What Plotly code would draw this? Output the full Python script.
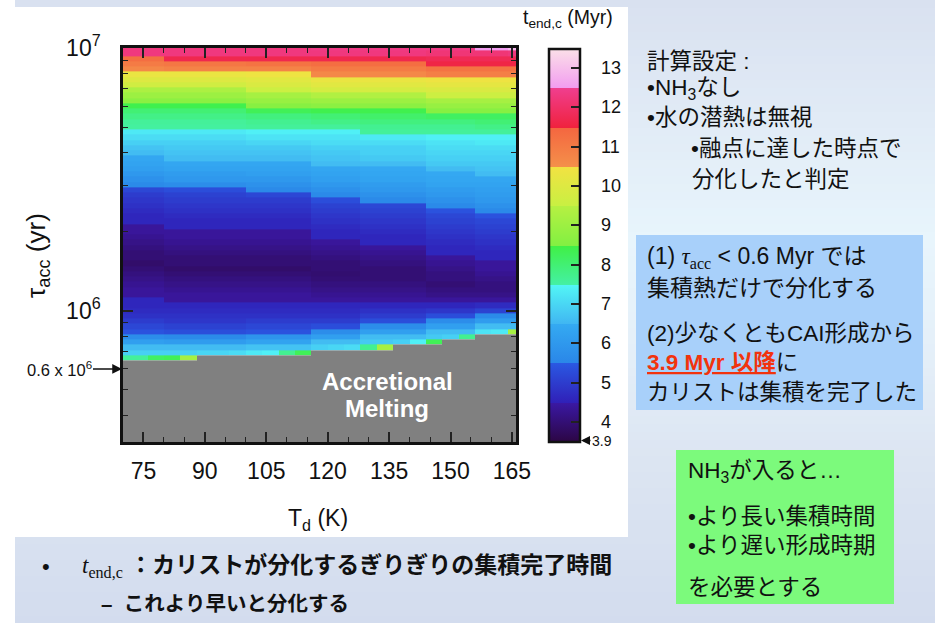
import numpy as np
import plotly.graph_objects as go

# ---------------------------------------------------------------- data ----
# Dust temperature columns (K)
td_k = [70, 74, 78, 82, 86, 90, 94, 98, 102, 106, 110, 114, 118, 122, 126,
        130, 134, 138, 142, 146, 150, 154, 158, 162, 166]

# t_end,c profile followed by each Td column
td_profile = ["A", "A", "A", "B", "B", "B", "B", "B", "C", "C", "C", "C",
              "D", "D", "D", "E", "E", "E", "E", "F", "F", "F", "G", "G", "H"]

# accretion timescale below which the body melts during accretion (Myr)
melt_limit_myr = [0.646, 0.646, 0.646, 0.646, 0.646,
                  0.676, 0.676, 0.676, 0.676, 0.676, 0.676, 0.676,
                  0.708, 0.708, 0.708, 0.708, 0.708,
                  0.741, 0.741, 0.741,
                  0.776, 0.776,
                  0.813, 0.813, 0.813]

# t_end,c (Myr) in the last row before the accretional-melting region
t_end_edge = [7.6, 7.6, 8.2, 8.3, 9.2, 7.0, 7.0, 7.1, 7.3, 7.4, 7.7, 8.3,
              6.9, 7.0, 7.1, 7.7, 9.2, 6.9, 7.4, 8.3, 6.9, 7.7, 7.2, 7.3, 9.2]

# t_end,c (Myr) for log10(tau_acc / yr) = 7.00, 6.98, ... 5.82
t_end_A = [12.3, 12.3, 11.3, 11.0, 10.7, 10.3, 10.0, 9.7, 9.3, 9.0,
           8.7, 8.4, 8.0, 7.8, 7.6, 7.55, 7.3, 7.1, 6.9, 6.7,
           6.6, 6.4, 6.3, 6.2, 6.0, 5.8, 5.6, 5.2, 5.0, 4.9,
           4.8, 4.7, 4.6, 4.6, 4.4, 4.4, 4.3, 4.2, 4.1, 4.0,
           4.0, 3.9, 4.0, 4.1, 4.2, 4.3, 4.4, 4.4, 4.6, 4.6,
           4.7, 4.8, 5.0, 5.2, 5.4, 5.7, 6.2, 6.6, 6.9, None]
t_end_B = [12.3, 12.3, 11.7, 11.1, 10.8, 10.3, 10.0, 9.7, 9.3, 9.0,
           8.7, 8.4, 8.0, 7.8, 7.6, 7.55, 7.3, 7.1, 6.9, 6.8,
           6.7, 6.6, 6.4, 6.3, 6.1, 6.0, 5.7, 5.3, 5.1, 5.0,
           4.9, 4.8, 4.7, 4.6, 4.6, 4.4, 4.4, 4.3, 4.2, 4.1,
           4.0, 4.0, 3.9, 4.0, 4.1, 4.2, 4.3, 4.4, 4.4, 4.6,
           4.7, 4.8, 4.9, 5.1, 5.3, 5.6, 6.1, 6.6, 6.9, None]
t_end_C = [12.3, 12.3, 11.7, 11.2, 10.8, 10.4, 10.1, 9.9, 9.6, 9.2,
           8.9, 8.6, 8.3, 7.9, 7.7, 7.6, 7.4, 7.2, 7.0, 6.8,
           6.7, 6.6, 6.4, 6.3, 6.2, 6.0, 5.8, 5.6, 5.2, 5.0,
           4.9, 4.8, 4.7, 4.6, 4.6, 4.4, 4.4, 4.3, 4.2, 4.1,
           4.0, 4.0, 3.9, 4.0, 4.1, 4.2, 4.3, 4.4, 4.4, 4.6,
           4.7, 4.8, 5.0, 5.2, 5.4, 5.9, 6.3, 6.7, None, None]
t_end_D = [12.4, 12.3, 11.7, 11.3, 11.0, 10.7, 10.3, 10.1, 9.8, 9.4,
           9.0, 8.7, 8.4, 8.0, 7.8, 7.6, 7.4, 7.2, 7.1, 6.9,
           6.8, 6.7, 6.6, 6.4, 6.3, 6.2, 6.0, 5.8, 5.6, 5.3,
           5.1, 5.0, 4.9, 4.8, 4.7, 4.6, 4.6, 4.4, 4.3, 4.2,
           4.1, 4.0, 4.0, 3.95, 4.0, 4.1, 4.2, 4.3, 4.4, 4.6,
           4.7, 4.8, 5.0, 5.3, 5.7, 6.2, 6.6, None, None, None]
t_end_E = [12.4, 12.3, 11.7, 11.3, 11.0, 10.7, 10.3, 10.1, 9.8, 9.4,
           9.0, 8.7, 8.4, 8.1, 7.9, 7.7, 7.6, 7.3, 7.1, 6.9,
           6.9, 6.8, 6.6, 6.45, 6.4, 6.3, 6.1, 6.0, 5.8, 5.6,
           5.2, 5.1, 5.0, 4.9, 4.8, 4.7, 4.6, 4.6, 4.4, 4.3,
           4.2, 4.1, 4.0, 4.0, 4.0, 4.1, 4.2, 4.3, 4.4, 4.6,
           4.8, 5.0, 5.3, 5.7, 6.2, 6.6, 6.8, None, None, None]
t_end_F = [12.4, 12.2, 11.8, 11.6, 11.2, 10.9, 10.4, 10.2, 9.9, 9.6,
           9.2, 8.9, 8.6, 8.2, 7.9, 7.7, 7.6, 7.4, 7.2, 7.1,
           7.0, 6.9, 6.8, 6.6, 6.45, 6.4, 6.3, 6.1, 6.0, 5.8,
           5.6, 5.4, 5.2, 5.1, 5.0, 4.9, 4.8, 4.7, 4.6, 4.6,
           4.4, 4.3, 4.2, 4.1, 4.1, 4.0, 4.1, 4.2, 4.4, 4.6,
           4.9, 5.3, 5.7, 6.2, 6.6, 6.8, None, None, None, None]
t_end_G = [12.5, 12.2, 11.8, 11.6, 11.2, 10.9, 10.4, 10.2, 9.9, 9.6,
           9.2, 8.9, 8.6, 8.2, 8.0, 7.8, 7.6, 7.4, 7.3, 7.1,
           7.0, 6.9, 6.8, 6.7, 6.6, 6.4, 6.3, 6.2, 6.1, 6.0,
           5.8, 5.6, 5.4, 5.2, 5.1, 5.0, 4.9, 4.8, 4.7, 4.6,
           4.6, 4.4, 4.4, 4.3, 4.2, 4.1, 4.1, 4.2, 4.4, 4.7,
           5.1, 5.6, 6.1, 6.6, None, None, None, None, None, None]
t_end_H = [12.9, 12.3, 11.8, 11.6, 11.2, 10.9, 10.4, 10.2, 9.9, 9.6,
           9.2, 8.9, 8.6, 8.2, 8.0, 7.8, 7.6, 7.4, 7.3, 7.1,
           7.0, 6.9, 6.8, 6.7, 6.6, 6.4, 6.3, 6.2, 6.1, 6.0,
           5.8, 5.6, 5.4, 5.2, 5.1, 5.0, 4.9, 4.8, 4.7, 4.6,
           4.6, 4.4, 4.4, 4.3, 4.2, 4.1, 4.1, 4.2, 4.4, 4.7,
           5.1, 5.6, 6.1, 6.6, None, None, None, None, None, None]

x_tick_vals = [75, 90, 105, 120, 135, 150, 165]
y_tick_vals = [1e6, 1e7]
y_tick_text = ["10<sup>6</sup>", "10<sup>7</sup>"]
cbar_tick_vals = [4, 5, 6, 7, 8, 9, 10, 11, 12, 13]
melt_marker_yr = 0.6e6

# ------------------------------------------------------------- grid ------
profiles = {"A": t_end_A, "B": t_end_B, "C": t_end_C, "D": t_end_D,
            "E": t_end_E, "F": t_end_F, "G": t_end_G, "H": t_end_H}
log_tau = np.round(np.linspace(7.0, 5.5, 76), 2)          # rows, top-down
n_rows, n_cols = len(log_tau), len(td_k)

z = np.full((n_rows, n_cols), np.nan)
gray = np.full((n_rows, n_cols), np.nan)
for j in range(n_cols):
    prof = profiles[td_profile[j]]
    lim = np.log10(melt_limit_myr[j] * 1e6)
    valid = [i for i in range(n_rows) if log_tau[i] > lim]
    edge_i = max(valid)
    for i in range(n_rows):
        if i in valid:
            z[i, j] = t_end_edge[j] if i == edge_i else prof[i]
        else:
            gray[i, j] = 1.0

t_min = float(np.nanmin(z))

# brick edges: Td midpoints clipped to the axis range, log-midpoints in tau
x_range = [min(td_k), max(td_k)]
x_edges = [x_range[0]] + [(a + b) / 2 for a, b in zip(td_k[:-1], td_k[1:])] + [x_range[1]]
lt_asc = log_tau[::-1]
half = 0.01
y_edges = list(10 ** (lt_asc - half)) + [10 ** (lt_asc[-1] + half)]
z_asc = z[::-1]
gray_asc = gray[::-1]

# banded rainbow colour scale (one band per Myr)
Z_LO, Z_HI = 3.5, 13.5
bands = [
    (3.5, 4.5, "#2c0644", "#3a18a4"),
    (4.5, 5.5, "#3020b8", "#2a58e2"),
    (5.5, 6.5, "#2a86e8", "#34aaf2"),
    (6.5, 7.5, "#40b6f2", "#52f6f6"),
    (7.5, 8.5, "#44f0a4", "#40f044"),
    (8.5, 9.5, "#82f042", "#b6f042"),
    (9.5, 10.5, "#c8f042", "#f2e242"),
    (10.5, 11.5, "#f4904a", "#f46640"),
    (11.5, 12.5, "#f0223e", "#f03e8e"),
    (12.5, 13.5, "#f29cf0", "#fbe0e8"),
]
colorscale = []
for lo, hi, c_lo, c_hi in bands:
    colorscale.append([(lo - Z_LO) / (Z_HI - Z_LO), c_lo])
    colorscale.append([(hi - Z_LO) / (Z_HI - Z_LO), c_hi])
colorscale[0][0] = 0.0
colorscale[-1][0] = 1.0

# ------------------------------------------------------------ layout -----
W, H = 935, 623
PL, PR, PT, PB = 123, 516, 48, 442


def px_x(px):
    return (px - PL) / (PR - PL)


def px_y(py):
    return (PB - py) / (PB - PT)


SANS = "Liberation Sans, Arial, Noto Sans CJK JP"
JP = "Liberation Sans, Noto Sans CJK JP"
INK = "#111111"

CB_LEFT, CB_THICK = 549, 31
CB_TOP, CB_BOTTOM = 48.5, 441.5


def cbar_py(v):
    """Vertical pixel position of value v on the colour bar."""
    return CB_BOTTOM - (v - Z_LO) / (Z_HI - Z_LO) * (CB_BOTTOM - CB_TOP)


fig = go.Figure()
fig.add_trace(go.Heatmap(
    x=x_edges, y=y_edges, z=z_asc, zmin=Z_LO, zmax=Z_HI,
    colorscale=colorscale, hoverinfo="skip",
    colorbar=dict(
        thickness=CB_THICK, thicknessmode="pixels",
        len=CB_BOTTOM - CB_TOP, lenmode="pixels",
        x=px_x(CB_LEFT), xanchor="left", xpad=0,
        y=px_y(CB_TOP), yanchor="top", ypad=0,
        outlinewidth=2.5, outlinecolor=INK,
        tickvals=cbar_tick_vals, ticks="inside", ticklen=10, tickwidth=1.5,
        tickcolor="#222222", showticklabels=False,
    ),
))
fig.add_trace(go.Heatmap(
    x=x_edges, y=y_edges, z=gray_asc, zmin=0, zmax=1,
    colorscale=[[0, "#808080"], [1, "#808080"]], showscale=False,
    hoverinfo="skip",
))

fig.update_xaxes(
    range=x_range, tickvals=x_tick_vals, ticks="inside", ticklen=10,
    tickwidth=1.5, tickcolor="#222222",
    minor=dict(dtick=5, tick0=70, ticks="inside", ticklen=5, tickwidth=1.2,
               tickcolor="#222222"),
    showline=True, linewidth=2.5, linecolor=INK, mirror="ticks",
    showgrid=False, zeroline=False, ticklabelstandoff=7,
    tickfont=dict(family=SANS, size=23, color=INK),
)
fig.update_yaxes(
    type="log", range=[5.5, 7.0], tickvals=y_tick_vals, ticktext=y_tick_text,
    ticks="inside", ticklen=10, tickwidth=1.5, tickcolor="#222222",
    minor=dict(tickvals=[k * 1e5 for k in range(4, 10)] + [k * 1e6 for k in range(2, 10)],
               ticks="inside", ticklen=5, tickwidth=1.2, tickcolor="#222222"),
    showline=True, linewidth=2.5, linecolor=INK, mirror="ticks",
    showgrid=False, zeroline=False, ticklabelstandoff=15,
    tickfont=dict(family=SANS, size=23, color=INK),
)

# ------------------------------------------------------- background ------
def hex_to_rgb(h):
    h = h.lstrip("#")
    return [int(h[i:i + 2], 16) for i in (0, 2, 4)]


bg_stops = [(0, "#d9e1f0"), (120, "#e1ebf6"), (240, "#e8f5fc"),
            (340, "#e5f0f9"), (460, "#dce5f2"), (623, "#d3dcee")]


def bg_color(y):
    for (y0, c0), (y1, c1) in zip(bg_stops[:-1], bg_stops[1:]):
        if y0 <= y <= y1:
            t = (y - y0) / (y1 - y0)
            a, b = hex_to_rgb(c0), hex_to_rgb(c1)
            return "rgb({},{},{})".format(*[round(p + (q - p) * t) for p, q in zip(a, b)])
    return bg_stops[-1][1]


shapes = []
stripe = 8
for y0 in range(0, H, stripe):
    shapes.append(dict(type="rect", xref="paper", yref="paper", layer="below",
                       x0=px_x(0), x1=px_x(W), y0=px_y(y0), y1=px_y(min(y0 + stripe + 1, H)),
                       fillcolor=bg_color(y0 + stripe / 2), line=dict(width=0)))


def rect(x0, y0, x1, y1, color):
    return dict(type="rect", xref="paper", yref="paper", layer="below",
                x0=px_x(x0), x1=px_x(x1), y0=px_y(y0), y1=px_y(y1),
                fillcolor=color, line=dict(width=0))


shapes.append(rect(0, 7, 628, 537, "white"))
shapes.append(rect(0, 0, 15, H, "white"))
shapes.append(rect(636, 235, 923, 410, "#a8d0fa"))
shapes.append(rect(676, 450, 894, 604, "#7cfa7c"))

# ------------------------------------------------------- annotations -----
ann = []


def label(px, py, s, size, family=JP, color=INK, xanchor="left", **kw):
    ann.append(dict(xref="paper", yref="paper", x=px_x(px), y=px_y(py), text=s,
                    showarrow=False, xanchor=xanchor, yanchor="middle",
                    font=dict(family=family, size=size, color=color), **kw))


SERIF = "font-family:Liberation Serif"

# colour-bar tick labels
for v in cbar_tick_vals:
    label(599, cbar_py(v), str(v), 18, family=SANS)

# axis titles and colour-bar title
label(37, 256, "τ<sub>acc</sub> (yr)", 26, family=SANS, xanchor="center", textangle=-90)
label(318, 519, "T<sub>d</sub> (K)", 23, family=SANS, xanchor="center")
label(615, 19, "t<sub>end,c</sub> (Myr)", 19.5, family=SANS, xanchor="right")

# region label
label(387, 381, "<b>Accretional</b>", 24, family=SANS, color="white", xanchor="center")
label(387, 408, "<b>Melting</b>", 24, family=SANS, color="white", xanchor="center")

# melting-threshold marker on the tau axis
ann.append(dict(xref="x", yref="y", x=x_range[0], y=np.log10(melt_marker_yr),
                text="{:g} x 10<sup>6</sup>".format(melt_marker_yr / 1e6),
                showarrow=True, arrowhead=2, arrowsize=1.3, arrowwidth=1.5,
                arrowcolor=INK, ax=-64, ay=0, standoff=1,
                font=dict(family=SANS, size=16.5, color=INK)))

# minimum of the colour bar
ann.append(dict(xref="paper", yref="paper",
                x=px_x(CB_LEFT + CB_THICK + 1), y=px_y(CB_BOTTOM - 1),
                text="{:.1f}".format(t_min), showarrow=True, arrowhead=2,
                arrowsize=1.2, arrowwidth=1.5, arrowcolor=INK, ax=21, ay=0,
                font=dict(family=SANS, size=14, color=INK)))

# setup notes
label(645, 61, "計算設定 :", 22.5)
label(645, 89, "•NH<sub>3</sub>なし", 22.5)
label(645, 118, "•水の潜熱は無視", 22.5)
label(689, 148, "•融点に達した時点で", 22.5)
label(690, 179, "分化したと判定", 22.5)

# conclusions box
label(645, 257, "(1) <span style='" + SERIF + "'><i>τ</i><sub>acc</sub></span> &lt; 0.6 Myr では", 23)
label(645, 288, "集積熱だけで分化する", 23)
label(645, 333, "(2)少なくともCAI形成から", 22.5)
label(645, 362, "<span style='color:#f2330d'><b><u>{:.1f} Myr 以降</u></b></span>に".format(t_min), 22.5)
label(645, 392, "カリストは集積を完了した", 22.5)

# NH3 box
label(686, 472, "NH<sub>3</sub>が入ると…", 22.5)
label(686, 516, "•より長い集積時間", 22.5)
label(686, 545, "•より遅い形成時期", 22.5)
label(686, 587, "を必要とする", 22.5)

# footnote
label(40, 566, "•", 22)
label(80, 566, "<span style='" + SERIF + "'><i>t</i><sub>end,c</sub></span><b> ：カリストが分化するぎりぎりの集積完了時間</b>", 23)
label(99, 603, "<b>–\u00a0\u00a0これより早いと分化する</b>", 20.5)

fig.update_layout(
    width=W, height=H, margin=dict(l=PL, r=W - PR, t=PT, b=H - PB, pad=0),
    paper_bgcolor="#d9e1f0", plot_bgcolor="rgba(0,0,0,0)",
    showlegend=False, shapes=shapes, annotations=ann,
    font=dict(family=SANS, color=INK),
)

fig.write_html("out.html")
